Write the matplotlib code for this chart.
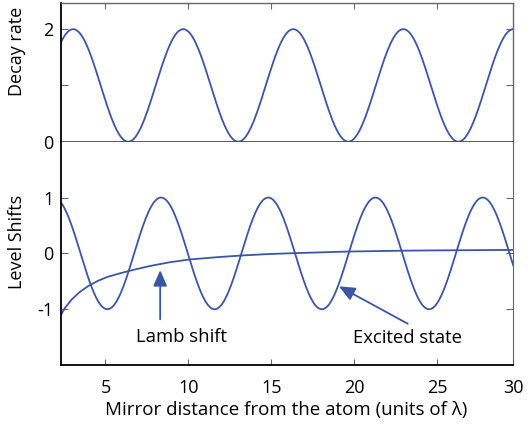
import matplotlib.pyplot as plt
import numpy as np

plt.rcParams['font.family'] = ['Open Sans', 'DejaVu Sans']
plt.rcParams['axes.unicode_minus'] = False

# curve parameters (peak position, period in units of lambda)
decay_peak = 3.05
decay_period = 6.64
shift_peak = 8.35
shift_period = 6.47

# Lamb shift curve
lamb_x = [2.3, 2.56, 2.96, 3.46, 3.95, 4.55, 5.15, 5.96, 6.75, 7.65, 8.85, 10.05,
          11.65, 13.25, 14.85, 16.45, 19.65, 22.84, 25.0, 29.6]
lamb_y = [-1.11, -0.975, -0.826, -0.688, -0.587, -0.49, -0.418, -0.35, -0.29, -0.228, -0.16, -0.11,
          -0.07, -0.037, -0.012, 0.005, 0.033, 0.048, 0.054, 0.062]

x_lo, x_hi = 2.3, 29.6
xticks = [5, 10, 15, 20, 25, x_hi]
xtick_labels = ['5', '10', '15', '20', '25', '30']

blue = '#3b56a4'
grey = '#666666'

x = np.linspace(x_lo, x_hi, 1000)
decay = 1 + np.cos(2 * np.pi * (x - decay_peak) / decay_period)
excited = np.cos(2 * np.pi * (x - shift_peak) / shift_period)

fig = plt.figure(figsize=(5.28, 4.29), dpi=100)
ax1 = fig.add_axes([0.115, 0.6697, 0.857, 0.3226])
ax2 = fig.add_axes([0.115, 0.149, 0.857, 0.5207])

# top panel
ax1.plot(x, decay, color=blue, lw=1.3)
ax1.set_xlim(x_lo, x_hi)
ax1.set_ylim(0, 2.46)
ax1.set_yticks([0, 1, 2])
ax1.set_yticklabels(['0', '', '2'])
ax1.set_xticks(xticks[:-1])
ax1.tick_params(axis='x', bottom=False, top=True, labelbottom=False, direction='in', length=4, color=grey)
ax1.tick_params(axis='y', left=True, right=True, direction='in', length=5, color=grey, labelsize=13, pad=5)
for s in ['top', 'right']:
    ax1.spines[s].set_color(grey)
    ax1.spines[s].set_linewidth(1.0)
ax1.spines['bottom'].set_color('#4d4d4d')
ax1.spines['bottom'].set_linewidth(1.3)
ax1.spines['left'].set_color('black')
ax1.spines['left'].set_linewidth(1.3)

# bottom panel
ax2.plot(x, excited, color=blue, lw=1.3)
ax2.plot(lamb_x, lamb_y, color=blue, lw=1.3)
ax2.set_xlim(x_lo, x_hi)
ax2.set_ylim(-2, 2)
ax2.set_yticks([-1, 0, 1])
ax2.set_yticklabels(['-1', '0', '1'])
ax2.set_xticks(xticks)
ax2.set_xticklabels(xtick_labels)
ax2.tick_params(axis='x', direction='in', length=4, color=grey, labelsize=13, pad=10)
ax2.tick_params(axis='y', left=True, right=True, direction='in', length=5, color=grey, labelsize=13, pad=5)
ax2.spines['top'].set_visible(False)
ax2.spines['right'].set_color(grey)
for s in ['left', 'bottom']:
    ax2.spines[s].set_color('black')
    ax2.spines[s].set_linewidth(1.3)

arrow = dict(arrowstyle='-|>,head_length=0.8,head_width=0.35', color=blue, lw=1.3,
             mutation_scale=12, shrinkA=0, shrinkB=0)
ax2.annotate('', xy=(8.3, -0.3), xytext=(8.3, -1.18), arrowprops=arrow)
ax2.annotate('', xy=(19.09, -0.59), xytext=(23.24, -1.26), arrowprops=arrow)
ax2.text(9.57, -1.49, 'Lamb shift', fontsize=13.3, ha='center', va='center')
ax2.text(23.24, -1.51, 'Excited state', fontsize=13.3, ha='center', va='center')

fig.text(17 / 528, 1 - 51 / 429, 'Decay rate', rotation=90, fontsize=13, ha='center', va='center')
fig.text(17 / 528, 1 - 242 / 429, 'Level Shifts', rotation=90, fontsize=13, ha='center', va='center')
fig.text(286 / 528, 1 - 410 / 429, 'Mirror distance from the atom (units of λ)', fontsize=13.5,
         ha='center', va='center')

fig.savefig('out.png', dpi=100)
